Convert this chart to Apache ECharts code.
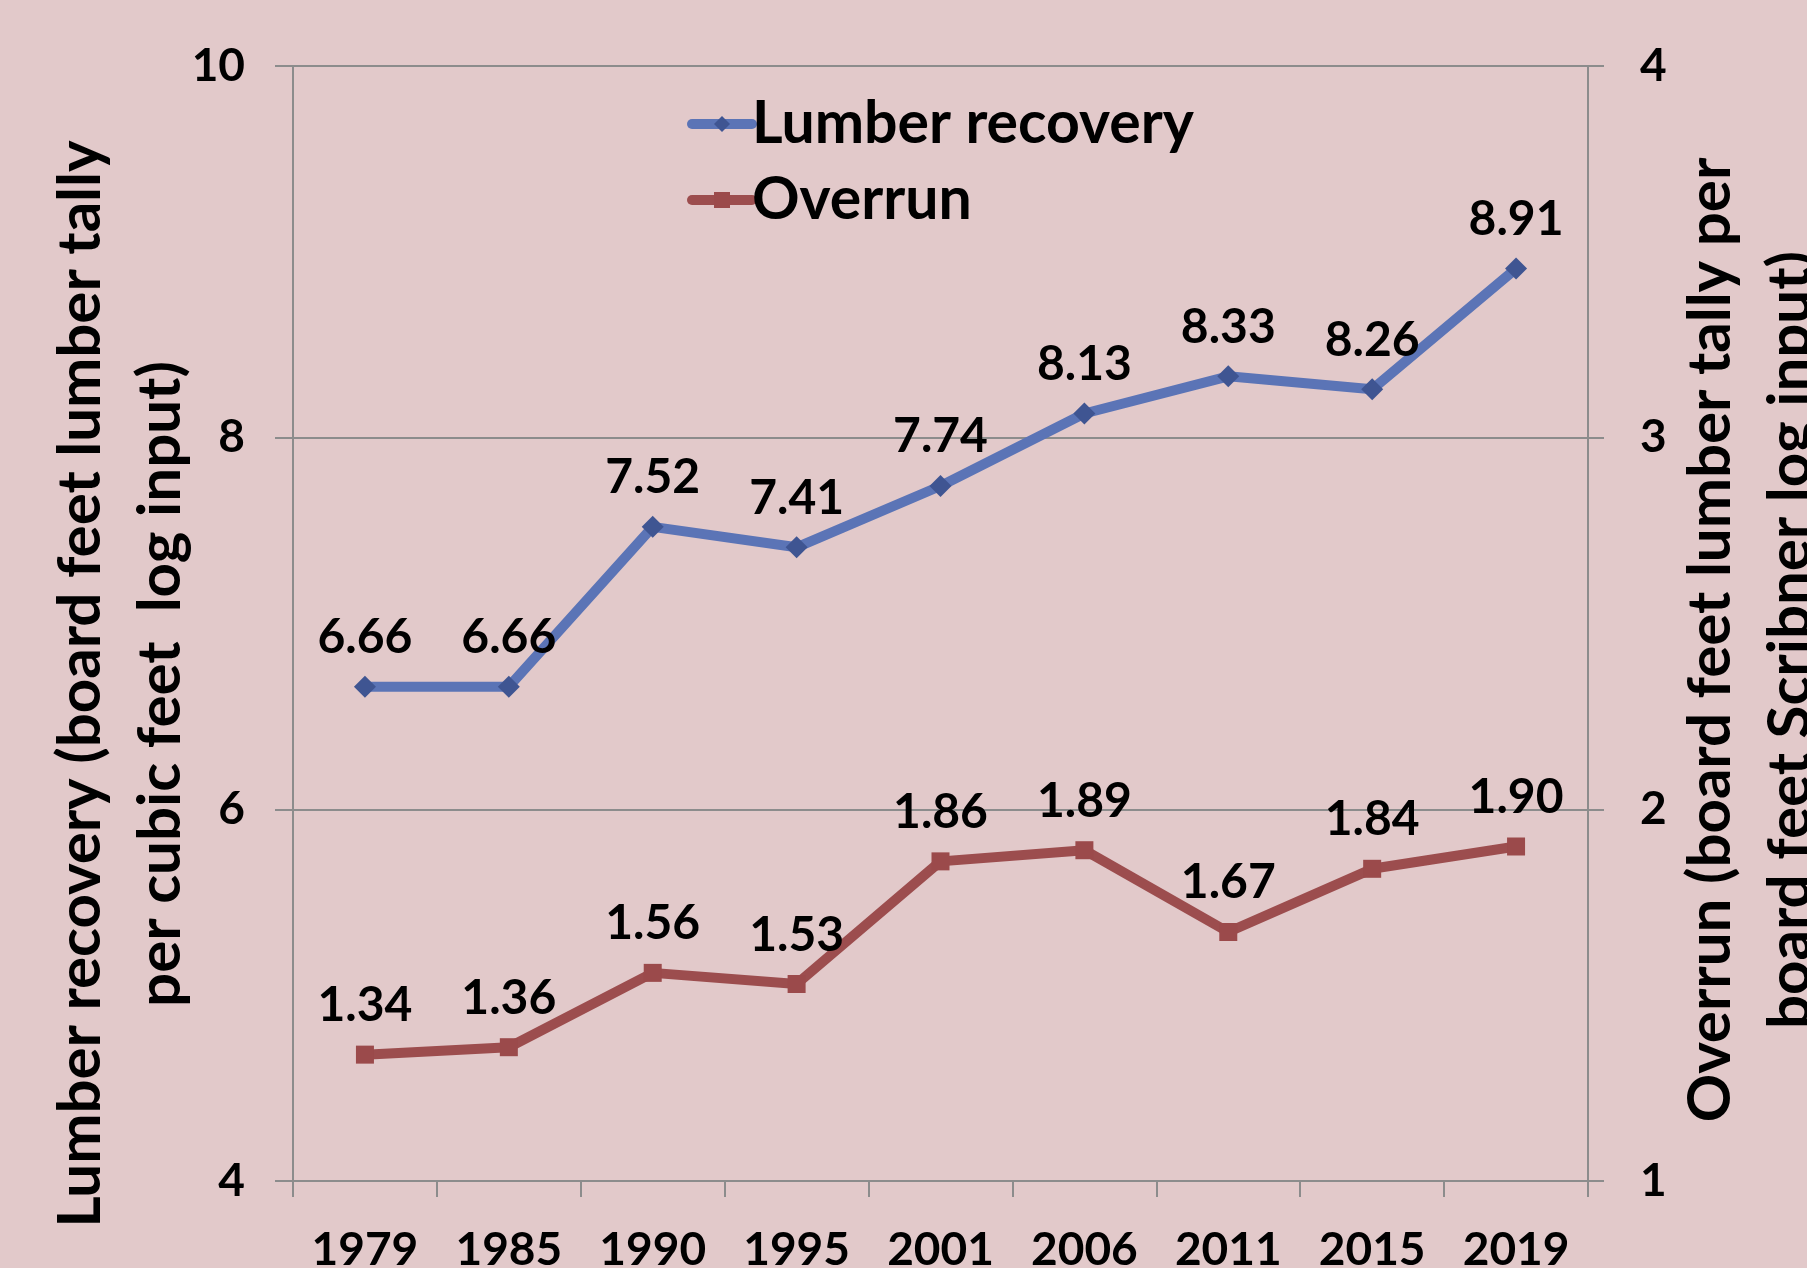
<!DOCTYPE html>
<html>
<head>
<meta charset="utf-8">
<script src="https://cdn.jsdelivr.net/npm/echarts@6/dist/echarts.min.js"></script>
<style>
html,body{margin:0;padding:0;background:#e2c9ca;}
#c{width:1807px;height:1268px;}
</style>
</head>
<body>
<div id="c"></div>
<script>
const years = ['1979','1985','1990','1995','2001','2006','2011','2015','2019'];
const lumberRecovery = [6.66, 6.66, 7.52, 7.41, 7.74, 8.13, 8.33, 8.26, 8.91];
const overrun = [1.34, 1.36, 1.56, 1.53, 1.86, 1.89, 1.67, 1.84, 1.90];
const leftTicks = {min: 4, max: 10, interval: 2};
const rightTicks = {min: 1, max: 4, interval: 1};
const leftTitle = 'Lumber recovery (board feet lumber tally\nper cubic feet  log input)';
const rightTitle = 'Overrun (board feet lumber tally per\nboard feet Scribner log input)';

const FONT = 'Lato';
const chart = echarts.init(document.getElementById('c'));
const axisGray = '#8c8c8c';
chart.setOption({
  backgroundColor: '#e2c9ca',
  animation: false,
  grid: {left: 293, right: 219, top: 66, bottom: 87, containLabel: false, outerBoundsMode: 'none'},
  legend: {
    orient: 'vertical',
    left: 682, top: 88,
    itemWidth: 60, itemHeight: 20, itemGap: 14,
    lineStyle: {width: 10, cap: 'round'},
    textStyle: {fontFamily: FONT, fontWeight: 'bold', fontSize: 59, color: '#000', lineHeight: 62, padding: [0,0,0,-5]},
    data: ['Lumber recovery', 'Overrun']
  },
  xAxis: {
    type: 'category', data: years, boundaryGap: true,
    axisLine: {lineStyle: {color: axisGray, width: 2}},
    axisTick: {show: true, length: 16, lineStyle: {color: axisGray, width: 2}},
    axisLabel: {margin: 46, fontFamily: FONT, fontWeight: 'bold', fontSize: 46, color: '#000', interval: 0}
  },
  yAxis: [{
    type: 'value', position: 'left', min: leftTicks.min, max: leftTicks.max, interval: leftTicks.interval,
    axisLine: {show: true, lineStyle: {color: axisGray, width: 2}},
    axisTick: {show: true, length: 18, lineStyle: {color: axisGray, width: 2}},
    splitLine: {show: true, lineStyle: {color: axisGray, width: 2}},
    axisLabel: {margin: 48, fontFamily: FONT, fontWeight: 'bold', fontSize: 46, color: '#000'}
  }, {
    type: 'value', position: 'right', min: rightTicks.min, max: rightTicks.max, interval: rightTicks.interval,
    axisLine: {show: true, lineStyle: {color: axisGray, width: 2}},
    axisTick: {show: true, length: 16, lineStyle: {color: axisGray, width: 2}},
    splitLine: {show: false},
    axisLabel: {margin: 52, fontFamily: FONT, fontWeight: 'bold', fontSize: 46, color: '#000'}
  }],
  series: [{
    name: 'Lumber recovery', type: 'line', yAxisIndex: 0, data: lumberRecovery,
    symbol: 'diamond', symbolSize: 22,
    lineStyle: {color: '#5b74b6', width: 10},
    itemStyle: {color: '#3f5592'},
    label: {show: true, position: 'top', distance: 14, fontFamily: FONT, fontWeight: 'bold', fontSize: 48, color: '#000',
      formatter: p => p.value.toFixed(2)}
  }, {
    name: 'Overrun', type: 'line', yAxisIndex: 1, data: overrun,
    symbol: 'rect', symbolSize: 18,
    lineStyle: {color: '#9c4d4e', width: 10},
    itemStyle: {color: '#9b4a4b'},
    label: {show: true, position: 'top', distance: 16, fontFamily: FONT, fontWeight: 'bold', fontSize: 48, color: '#000',
      formatter: p => p.value.toFixed(2)}
  }],
  graphic: [{
    type: 'text', x: 121, y: 684, rotation: Math.PI / 2,
    style: {text: leftTitle, font: 'bold 60px Lato', fill: '#000', align: 'center', verticalAlign: 'middle', lineHeight: 80}
  }, {
    type: 'text', x: 1751, y: 640, rotation: Math.PI / 2,
    style: {text: rightTitle, font: 'bold 60px Lato', fill: '#000', align: 'center', verticalAlign: 'middle', lineHeight: 80}
  }]
});
</script>
</body>
</html>
